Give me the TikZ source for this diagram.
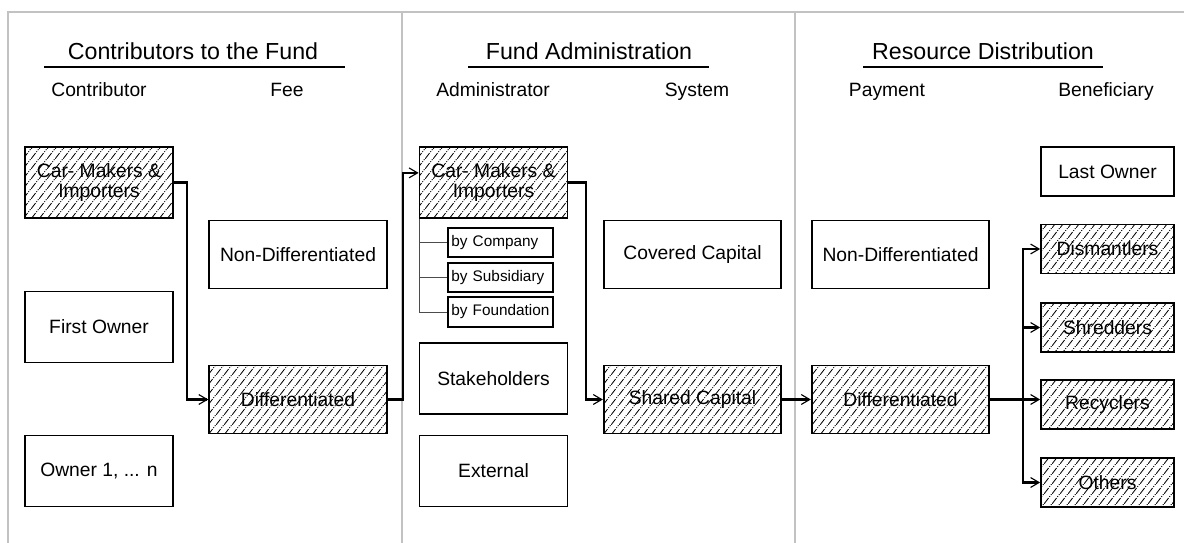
\documentclass[tikz,border=0pt]{standalone}
\usepackage{fontspec}
\setmainfont{Liberation Sans}
\usetikzlibrary{arrows.meta,patterns.meta}
\newcommand{\ttlfont}{\fontsize{16.5}{19}\selectfont}
\newcommand{\boxfont}{\fontsize{13.7}{14.6}\selectfont}
\newcommand{\smfont}{\fontsize{10.9}{12}\selectfont}
\definecolor{cFrame}{HTML}{C2C2C2}
\definecolor{cInk}{HTML}{000000}
\tikzdeclarepattern{
  name=hatch,
  type=uncolored,
  bottom left={(0pt,0pt)},
  top right={(5.5pt,7pt)},
  tile size={(5.5pt,7pt)},
  code={\draw[line width=0.6pt, dash pattern=on 5.4pt off 1pt on 0.7pt off 1pt] (0pt,0pt) -- (5.5pt,7pt);}
}
\tikzset{
  every node/.style={font=\boxfont, text=cInk},
  ttl/.style={font=\ttlfont, anchor=base, inner sep=0pt},
  hdr/.style={font=\boxfont, anchor=base, inner sep=0pt},
  rule/.style={line width=1.3pt, draw=cInk},
  frame/.style={line width=2pt, draw=cFrame},
  cell/.style={draw=cInk, line width=1.2pt, inner sep=0pt, align=center},
  wbox/.style={cell, minimum width=3.7cm, minimum height=1.775cm},
  fbox/.style={cell, minimum width=4.44cm, minimum height=1.7cm},
  bbox/.style={cell, minimum width=3.325cm, minimum height=1.225cm},
  sbox/.style={cell, font=\smfont, text width=2.45cm, inner xsep=0.09cm, align=left, minimum height=0.74cm},
  hatched/.style={pattern=hatch, pattern color=cInk},
  link/.style={line width=1.5pt, draw=cInk},
  arr/.style={-{Straight Barb[length=6pt,width=7pt,line width=0.8pt]}, line width=1.5pt, draw=cInk},
  tree/.style={line width=0.6pt, draw=cInk!70},
}
\begin{document}
\begin{tikzpicture}[x=0.025cm,y=-0.025cm]
\useasboundingbox (0,0) rectangle (1184,543);
% ---------------- frame
\draw[frame] (8,543) -- (8,12) -- (1184,12);
\draw[frame] (402,12) -- (402,543);
\draw[frame] (795,12) -- (795,543);

% ---------------- headings
\node[ttl] (t1) at (193,60) {Contributors to the Fund};
\node[ttl] (t2) at (589,60) {Fund Administration};
\node[ttl] (t3) at (983,60) {Resource Distribution};
\draw[rule] (44,67) -- (345,67);
\draw[rule] (468,67) -- (709,67);
\draw[rule] (863,67) -- (1103,67);
\node[hdr] (h1) at (99,97) {Contributor};
\node[hdr] (h2) at (287,97) {Fee};
\node[hdr] (h3) at (493,97) {Administrator};
\node[hdr] (h4) at (697,97) {System};
\node[hdr] (h5) at (887,97) {Payment};
\node[hdr] (h6) at (1106,97) {Beneficiary};

% ---------------- A: contributors
\node[wbox, hatched] (cm1) at (99,182.5) {Car- Makers \&\\Importers};
\node[wbox] (fo) at (99,327) {First Owner};
\node[wbox] (own) at (99,471) {Owner 1, ... n};
\node[fbox] (fnd) at (298,254.5) {Non-Differentiated};
\node[fbox, hatched] (fd) at (298,399.5) {Differentiated};

% ---------------- B: administration
\node[wbox, hatched] (cm2) at (493.5,182.5) {Car- Makers \&\\Importers};
\node[sbox, anchor=west] (byc) at (447,242.5) {by Company};
\node[sbox, anchor=west] (bys) at (447,277.5) {by Subsidiary};
\node[sbox, anchor=west] (byf) at (447,312) {by Foundation};
\node[wbox] (stk) at (493.5,378.5) {Stakeholders};
\node[wbox] (ext) at (493.5,471) {External};
\node[fbox] (cc) at (692.5,254.5) {Covered Capital};
\node[fbox, hatched] (sc) at (692.5,399.5) {Shared Capital};

% ---------------- C: distribution
\node[fbox] (pnd) at (900.5,254.5) {Non-Differentiated};
\node[fbox, hatched] (pd) at (900.5,399.5) {Differentiated};
\node[bbox] (lo) at (1107.5,171.5) {Last Owner};
\node[bbox, hatched] (dis) at (1107.5,249) {Dismantlers};
\node[bbox, hatched] (shr) at (1107.5,327.5) {Shredders};
\node[bbox, hatched] (rec) at (1107.5,404.5) {Recyclers};
\node[bbox, hatched] (oth) at (1107.5,482.5) {Others};

% ---------------- links
\draw[tree] ([xshift=0.03cm]cm2.south west) |- (byf.west);
\draw[tree] ([xshift=0.03cm]cm2.south west |- byc.west) -- (byc.west);
\draw[tree] ([xshift=0.03cm]cm2.south west |- bys.west) -- (bys.west);
\draw[arr] (cm1.east) -- ++(13,0) |- (fd.west);
\draw[arr] (fd.east) -- ++(15,0) |- ([yshift=0.24cm]cm2.west);
\draw[arr] (cm2.east) -- ++(18,0) |- (sc.west);
\draw[arr] (sc.east) -- (pd.west);
\draw[link] (pd.east) -- ++(33,0) coordinate (split);
\draw[arr] (split) -- (split -| rec.west);
\foreach \n in {dis,shr,oth}{\draw[arr] (split) |- (\n.west);}
\end{tikzpicture}
\end{document}
